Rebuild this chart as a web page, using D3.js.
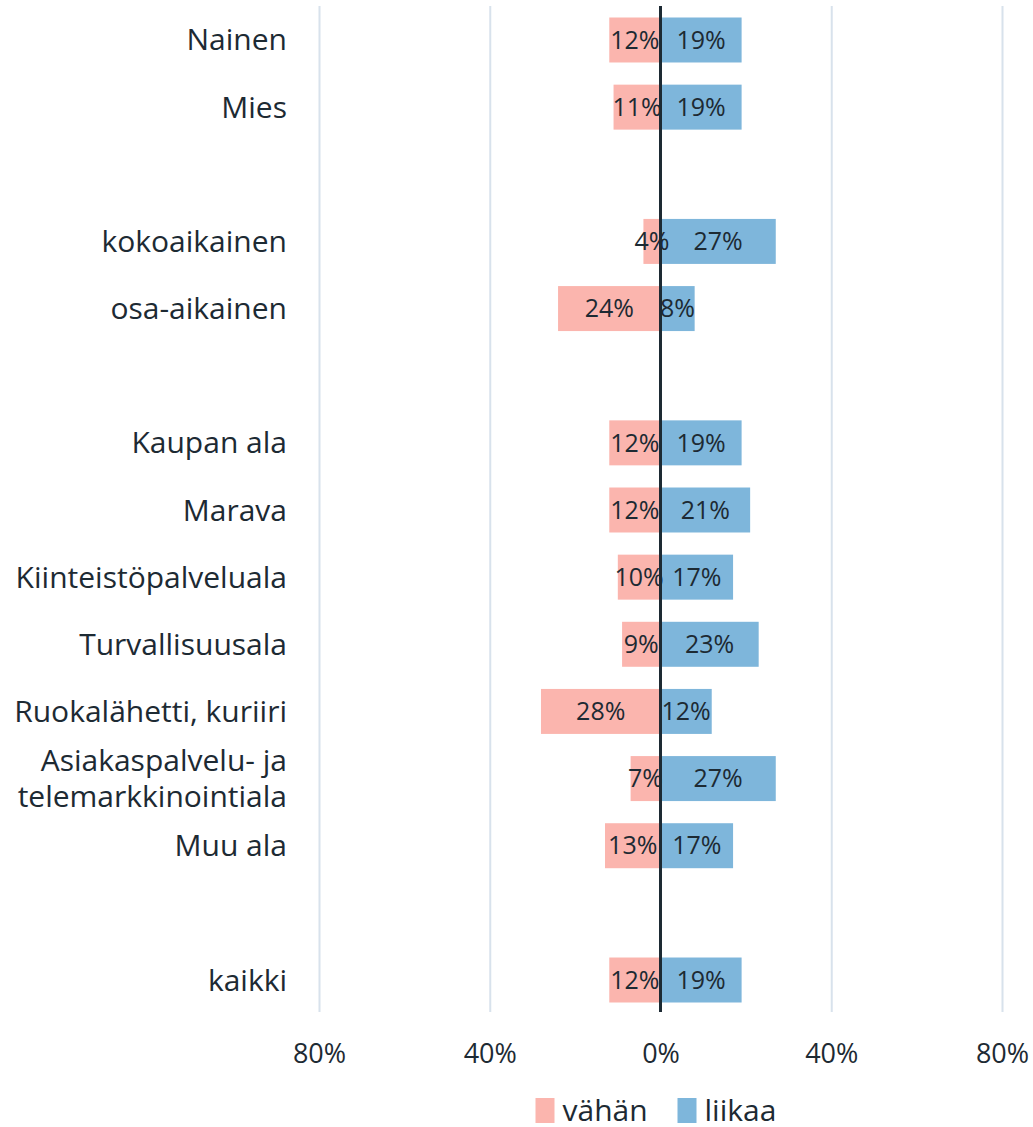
<!DOCTYPE html>
<html>
<head>
<meta charset="utf-8">
<script src="https://cdn.jsdelivr.net/npm/d3@7"></script>
<style>
  body { margin: 0; background: #fff; }
  .chart { width: 1033px; height: 1127px; }
  text { font-family: "Open Sans", "Noto Sans", sans-serif; fill: #1d2a33; }
</style>
</head>
<body>
<div class="chart"></div>
<script>
// Categories (blank strings are spacer rows)
const categories = ['Nainen', 'Mies', '', 'kokoaikainen', 'osa-aikainen', ' ',
  'Kaupan ala', 'Marava', 'Kiinteistöpalveluala', 'Turvallisuusala',
  'Ruokalähetti, kuriiri', 'Asiakaspalvelu- ja\ntelemarkkinointiala', 'Muu ala', '  ', 'kaikki']

// Series values (percent), null for spacer rows
const vahan = [12, 11, null, 4, 24, null, 12, 12, 10, 9, 28, 7, 13, null, 12]
const liikaa = [19, 19, null, 27, 8, null, 19, 21, 17, 23, 12, 27, 17, null, 19]

const tickValues = [-80, -40, 0, 40, 80]
const seriesNames = ['vähän', 'liikaa']
const colors = ['#fbb5ae', '#7eb6db']

const $graphWrapper = d3.select('.chart')
const width = 1033
const height = 1127

const margin = { top: 6, right: 31, bottom: 115, left: 319 }
const innerWidth = width - margin.left - margin.right
const innerHeight = height - margin.top - margin.bottom

const svg = $graphWrapper.append('svg')
  .attr('width', width)
  .attr('height', height)
  .append('g')
  .attr('transform', `translate(${margin.left},${margin.top})`)

const x = d3.scaleLinear().domain([-80, 80]).range([0, innerWidth])

const y = d3.scaleBand()
  .domain(categories)
  .range([11.5, innerHeight - 9.5])
  .paddingInner(0.33)
  .paddingOuter(0)

// grid + tick labels
svg.append('g')
  .attr('class', 'axis axis--x')
  .attr('transform', `translate(0, ${innerHeight})`)
  .call(d3.axisTop(x)
    .tickValues(tickValues)
    .tickSize(innerHeight)
    .tickFormat(d => Math.abs(d) + '%'))
  .call(g => g.select('.domain').remove())
  .call(g => g.selectAll('line').attr('stroke', '#d8e2ec').attr('stroke-width', 2))
  .call(g => g.selectAll('text')
    .attr('y', 42)
    .attr('font-size', 27)
    .attr('fill', '#1d2a33')
    .attr('dy', '0.35em'))

const rows = categories.map((c, i) => ({ cat: c, v: vahan[i], l: liikaa[i] }))
  .filter(d => d.v !== null)

// left bars
svg.selectAll('.bar-v')
  .data(rows)
  .enter().append('rect')
  .attr('class', 'bar-v')
  .attr('x', d => x(-d.v))
  .attr('y', d => y(d.cat))
  .attr('width', d => x(0) - x(-d.v))
  .attr('height', y.bandwidth())
  .attr('fill', colors[0])

// right bars
svg.selectAll('.bar-l')
  .data(rows)
  .enter().append('rect')
  .attr('class', 'bar-l')
  .attr('x', x(0))
  .attr('y', d => y(d.cat))
  .attr('width', d => x(d.l) - x(0))
  .attr('height', y.bandwidth())
  .attr('fill', colors[1])

// value labels
svg.selectAll('.lab-v')
  .data(rows)
  .enter().append('text')
  .attr('x', d => (x(-d.v) + x(0)) / 2)
  .attr('y', d => y(d.cat) + y.bandwidth() / 2)
  .attr('dy', '0.35em')
  .attr('text-anchor', 'middle')
  .attr('font-size', 25)
  .text(d => d.v + '%')

svg.selectAll('.lab-l')
  .data(rows)
  .enter().append('text')
  .attr('x', d => (x(d.l) + x(0)) / 2)
  .attr('y', d => y(d.cat) + y.bandwidth() / 2)
  .attr('dy', '0.35em')
  .attr('text-anchor', 'middle')
  .attr('font-size', 25)
  .text(d => d.l + '%')

// zero line
svg.append('line')
  .attr('x1', x(0)).attr('x2', x(0))
  .attr('y1', 0).attr('y2', innerHeight)
  .attr('stroke', '#1d2a33')
  .attr('stroke-width', 3)

// category labels
const catLabels = svg.selectAll('.cat')
  .data(rows)
  .enter().append('text')
  .attr('class', 'cat')
  .attr('text-anchor', 'end')
  .attr('font-size', 30)
  .attr('x', -32)
  .attr('y', d => y(d.cat) + y.bandwidth() / 2)

catLabels.each(function(d) {
  const lines = d.cat.split('\n')
  const t = d3.select(this)
  lines.forEach((line, i) => {
    t.append('tspan')
      .attr('x', -32)
      .attr('dy', i === 0 ? `${0.35 - (lines.length - 1) * 0.6}em` : '1.2em')
      .text(line)
  })
})

// legend
const legend = svg.append('g')
  .attr('transform', `translate(${x(0) - 125}, ${innerHeight + 98})`)

const items = legend.selectAll('g')
  .data(seriesNames)
  .enter().append('g')
  .attr('transform', (d, i) => `translate(${i === 0 ? 0 : 142}, 0)`)

items.append('rect')
  .attr('width', 19).attr('height', 25)
  .attr('y', -12)
  .attr('fill', (d, i) => colors[i])

items.append('text')
  .attr('x', 27)
  .attr('dy', '0.35em')
  .attr('font-size', 30)
  .text(d => d)
</script>
</body>
</html>
